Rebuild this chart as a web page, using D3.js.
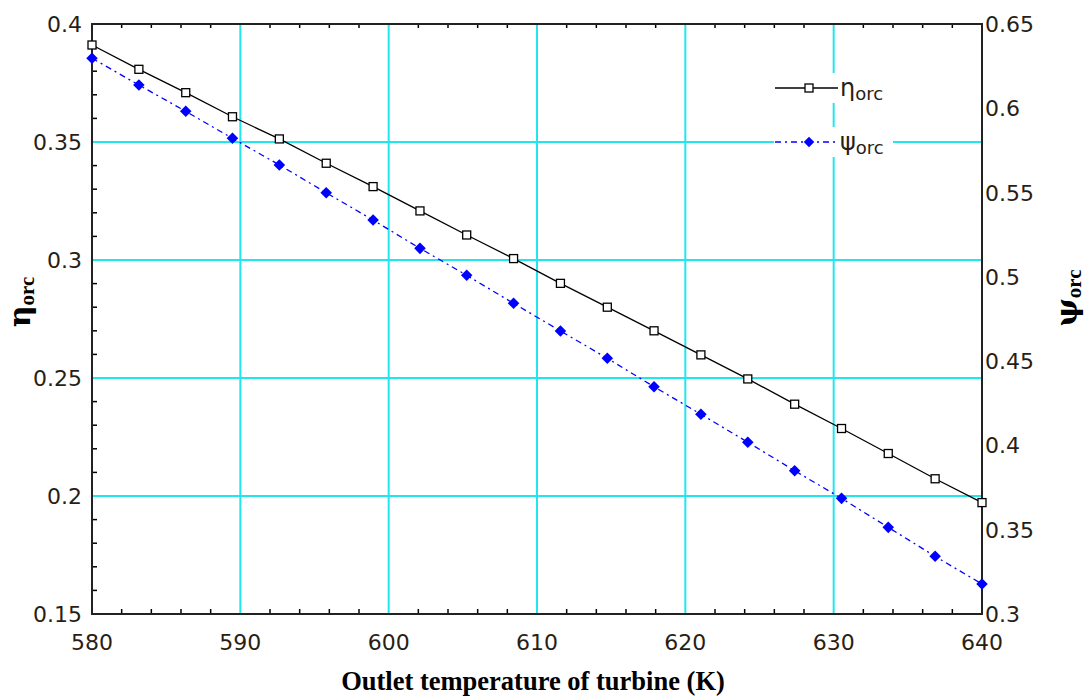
<!DOCTYPE html>
<html>
<head>
<meta charset="utf-8">
<script src="https://cdn.jsdelivr.net/npm/d3@7"></script>
<style>
  html, body { margin: 0; padding: 0; background: #fff; }
  svg { display: block; }
</style>
</head>
<body>
<script>
// ---- data ----
const temperatures = [580, 583.16, 586.32, 589.47, 592.63, 595.79, 598.95, 602.11, 605.26, 608.42,
                      611.58, 614.74, 617.89, 621.05, 624.21, 627.37, 630.53, 633.68, 636.84, 640];
const etaOrc = [0.3911, 0.3808, 0.3709, 0.3607, 0.3513, 0.3410, 0.3311, 0.3208, 0.3106, 0.3006,
                0.2901, 0.2800, 0.2700, 0.2598, 0.2496, 0.2389, 0.2286, 0.2180, 0.2073, 0.1972];
const psiOrc = [0.6297, 0.6138, 0.5982, 0.5822, 0.5664, 0.5499, 0.5337, 0.5169, 0.5009, 0.4843,
                0.4679, 0.4517, 0.4348, 0.4185, 0.4019, 0.3850, 0.3686, 0.3514, 0.3342, 0.3178];
const xTicks = [580, 590, 600, 610, 620, 630, 640];
const yLeftTicks = [0.15, 0.2, 0.25, 0.3, 0.35, 0.4];
const yRightTicks = [0.3, 0.35, 0.4, 0.45, 0.5, 0.55, 0.6, 0.65];
const seriesNames = ["η", "ψ"];
const subscriptText = "orc";

// ---- layout ----
const W = 1089, H = 698;
const m = { left: 92, right: 982, top: 24, bottom: 614 };
const svg = d3.select("body").append("svg").attr("width", W).attr("height", H);

const x = d3.scaleLinear().domain([580, 640]).range([m.left, m.right]);
const yL = d3.scaleLinear().domain([0.15, 0.4]).range([m.bottom, m.top]);
const yR = d3.scaleLinear().domain([0.3, 0.65]).range([m.bottom, m.top]);

const grid = "#22e6ee";
const tickFont = "DejaVu Sans";
const tickColor = "#2a1e14";

// grid lines (interior majors)
svg.append("g").selectAll("line").data(xTicks.slice(1, -1)).join("line")
  .attr("x1", d => x(d)).attr("x2", d => x(d))
  .attr("y1", m.top).attr("y2", m.bottom)
  .attr("stroke", grid).attr("stroke-width", 2);
svg.append("g").selectAll("line").data(yLeftTicks.slice(1, -1)).join("line")
  .attr("y1", d => yL(d)).attr("y2", d => yL(d))
  .attr("x1", m.left).attr("x2", m.right)
  .attr("stroke", grid).attr("stroke-width", 2);

// minor ticks
const xMinor = d3.range(580, 640.001, 2).filter(v => Math.abs(v % 10) > 0.01 && Math.abs(v % 10 - 10) > 0.01);
const yMinor = d3.range(0.15, 0.4001, 0.01).filter(v => {
  const r = Math.round(v * 100) % 5; return r !== 0;
});
const tk = svg.append("g").attr("stroke", "#000").attr("stroke-width", 1.5);
tk.selectAll(".xb").data(xMinor).join("line")
  .attr("x1", d => x(d)).attr("x2", d => x(d)).attr("y1", m.bottom).attr("y2", m.bottom - 5);
tk.selectAll(".xt").data(xMinor).join("line").attr("class", "xt")
  .attr("x1", d => x(d)).attr("x2", d => x(d)).attr("y1", m.top).attr("y2", m.top + 4);
tk.selectAll(".yl").data(yMinor).join("line").attr("class", "yl")
  .attr("x1", m.left).attr("x2", m.left + 5).attr("y1", d => yL(d)).attr("y2", d => yL(d));

// frame
svg.append("rect").attr("x", m.left).attr("y", m.top)
  .attr("width", m.right - m.left).attr("height", m.bottom - m.top)
  .attr("fill", "none").attr("stroke", "#222").attr("stroke-width", 2);

// tick labels
svg.append("g").selectAll("text").data(xTicks).join("text")
  .attr("x", d => x(d)).attr("y", 650)
  .attr("text-anchor", "middle")
  .attr("font-family", tickFont).attr("font-size", 22).attr("fill", tickColor)
  .text(d => d);
svg.append("g").selectAll("text").data(yLeftTicks).join("text")
  .attr("x", 82).attr("y", d => yL(d) + 8)
  .attr("text-anchor", "end")
  .attr("font-family", tickFont).attr("font-size", 22).attr("fill", tickColor)
  .text(d => d3.format("")(+d.toFixed(2)));
svg.append("g").selectAll("text").data(yRightTicks).join("text")
  .attr("x", 985).attr("y", d => yR(d) + 8)
  .attr("text-anchor", "start")
  .attr("font-family", tickFont).attr("font-size", 22).attr("fill", tickColor)
  .text(d => d3.format("")(+d.toFixed(2)));

// axis titles
svg.append("text").attr("x", 533).attr("y", 690)
  .attr("text-anchor", "middle")
  .attr("font-family", "Liberation Serif").attr("font-weight", "bold").attr("font-size", 26.5)
  .attr("fill", "#000").text("Outlet temperature of turbine (K)");

function yTitle(tx, ty, sym) {
  const t = svg.append("text").attr("transform", `translate(${tx},${ty}) rotate(-90)`)
    .attr("text-anchor", "middle")
    .attr("font-family", "Liberation Serif").attr("font-weight", "bold").attr("fill", "#000");
  t.append("tspan").attr("font-size", 30).attr("font-family", "DejaVu Serif").text(sym);
  t.append("tspan").attr("font-size", 21).attr("dy", 4).text(subscriptText);
}
yTitle(30, 302, seriesNames[0]);
yTitle(1077, 298, seriesNames[1]);

// series
const ptsEta = temperatures.map((t, i) => [t, etaOrc[i]]);
const ptsPsi = temperatures.map((t, i) => [t, psiOrc[i]]);

const lineL = d3.line().x(d => x(d[0])).y(d => yL(d[1]));
const lineR = d3.line().x(d => x(d[0])).y(d => yR(d[1]));

svg.append("path").datum(ptsPsi).attr("d", lineR)
  .attr("fill", "none").attr("stroke", "#0000ff").attr("stroke-width", 1.3)
  .attr("stroke-dasharray", "6,4,2,4");
svg.append("g").selectAll("path").data(ptsPsi).join("path")
  .attr("transform", d => `translate(${x(d[0])},${yR(d[1])})`)
  .attr("d", d3.symbol(d3.symbolDiamond2, 85)())
  .attr("fill", "#0000ff");

svg.append("path").datum(ptsEta).attr("d", lineL)
  .attr("fill", "none").attr("stroke", "#000").attr("stroke-width", 1.3);
svg.append("g").selectAll("rect").data(ptsEta).join("rect")
  .attr("x", d => x(d[0]) - 4).attr("y", d => yL(d[1]) - 4)
  .attr("width", 8).attr("height", 8)
  .attr("fill", "#fff").attr("stroke", "#000").attr("stroke-width", 1.3);

// legend
const lg = svg.append("g");
const legendRows = [
  { y: 88, sym: seriesNames[0], color: "#000", dash: null },
  { y: 142, sym: seriesNames[1], color: "#0000ff", dash: "6,4,2,4" }
];
legendRows.forEach(r => {
  lg.append("rect").attr("x", 774).attr("y", r.y - 15).attr("width", 119).attr("height", 30).attr("fill", "#fff");
  lg.append("line").attr("x1", 775).attr("x2", 838).attr("y1", r.y).attr("y2", r.y)
    .attr("stroke", r.color).attr("stroke-width", 1.3).attr("stroke-dasharray", r.dash);
  if (r.dash) {
    lg.append("path").attr("transform", `translate(809,${r.y})`)
      .attr("d", d3.symbol(d3.symbolDiamond2, 70)()).attr("fill", "#0000ff");
  } else {
    lg.append("rect").attr("x", 805).attr("y", r.y - 4).attr("width", 8).attr("height", 8)
      .attr("fill", "#fff").attr("stroke", "#000").attr("stroke-width", 1.3);
  }
  const t = lg.append("text").attr("x", 840).attr("y", r.y + 8)
    .attr("font-family", tickFont).attr("fill", tickColor);
  t.append("tspan").attr("font-size", 24).text(r.sym);
  t.append("tspan").attr("font-size", 18).attr("dy", 4).text(subscriptText);
});
</script>
</body>
</html>
